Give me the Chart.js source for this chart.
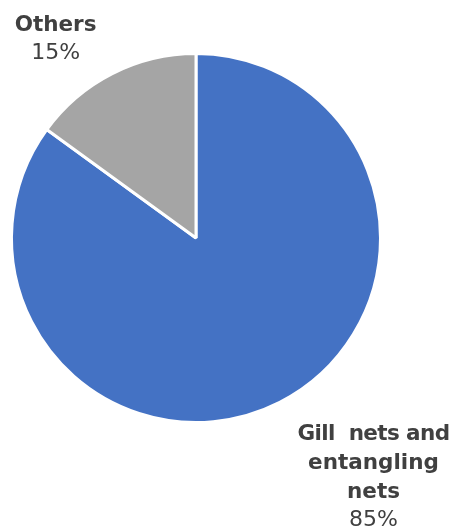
<!DOCTYPE html>
<html>
<head>
<meta charset="utf-8">
<script src="https://cdn.jsdelivr.net/npm/chart.js@4/dist/chart.umd.min.js"></script>
<style>
html,body{margin:0;padding:0;background:#fff;}
#wrap{width:451px;height:526px;position:relative;}
</style>
</head>
<body>
<div id="wrap"><canvas id="c"></canvas></div>
<script>
const categories = ["Gill  nets and entangling nets", "Others"];
const labelLines = [["Gill  nets and", "entangling", "nets"], ["Others"]];
const values = [85, 15];
const percentLabels = ["85%", "15%"];
const colors = ["#4472C4", "#A5A5A5"];

const labelPlugin = {
  id: 'outsideLabels',
  afterDraw(chart) {
    const ctx = chart.ctx;
    const meta = chart.getDatasetMeta(0);
    const arc0 = meta.data[0];
    const cx = arc0.x, cy = arc0.y, r = arc0.outerRadius;
    const anchors = [
      {x: cx + r * 0.962, y: cy + r * 1.097},
      {x: cx - r * 0.761, y: cy - r * 1.12}
    ];
    const lh = 29;
    ctx.save();
    ctx.fillStyle = '#404040';
    ctx.textAlign = 'center';
    ctx.textBaseline = 'alphabetic';
    meta.data.forEach((arc, i) => {
      const a = anchors[i];
      let y = a.y;
      ctx.font = 'bold 21.5px "DejaVu Sans"';
      labelLines[i].forEach((line, j) => {
        ctx.letterSpacing = (i === 0 && j === 0) ? '-0.6px' : '0px';
        ctx.fillText(line, a.x, y);
        y += lh;
      });
      ctx.letterSpacing = '0px';
      ctx.font = '22px "DejaVu Sans"';
      ctx.fillText(percentLabels[i], a.x, y - 1);
    });
    ctx.restore();
  }
};

new Chart(document.getElementById('c'), {
  type: 'pie',
  data: {
    labels: categories,
    datasets: [{
      data: values,
      backgroundColor: colors,
      borderColor: '#ffffff',
      borderWidth: 3
    }]
  },
  options: {
    responsive: true,
    maintainAspectRatio: false,
    animation: false,
    layout: {padding: {left: 10, right: 69, top: 52, bottom: 102}},
    plugins: {
      legend: {display: false},
      tooltip: {enabled: false}
    }
  },
  plugins: [labelPlugin]
});
</script>
</body>
</html>
